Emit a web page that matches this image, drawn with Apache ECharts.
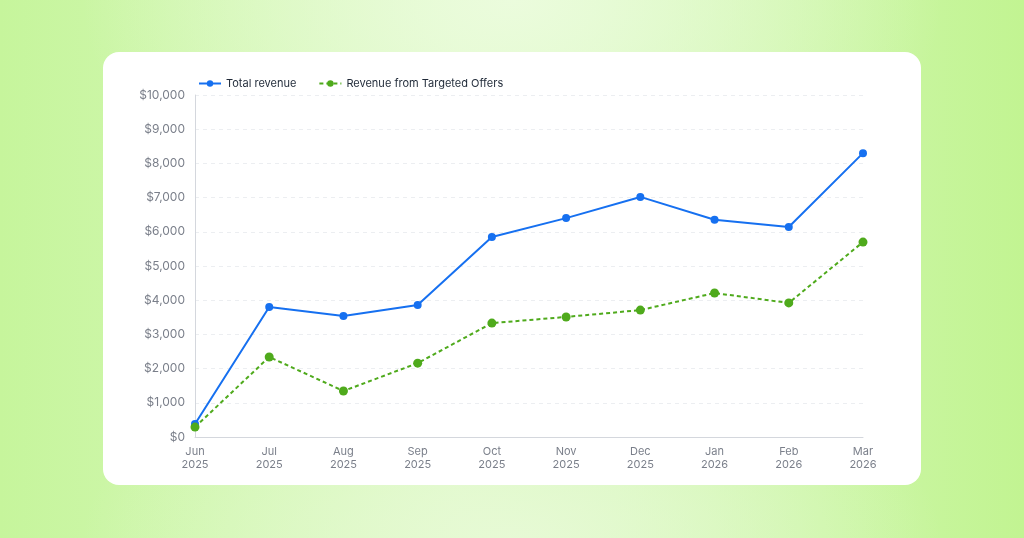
<!DOCTYPE html>
<html>
<head>
<meta charset="utf-8">
<script src="https://cdn.jsdelivr.net/npm/echarts@6/dist/echarts.min.js"></script>
<style>
  html, body { margin: 0; padding: 0; }
  body {
    width: 1024px; height: 538px; overflow: hidden; position: relative;
    background:
      radial-gradient(ellipse 60% 70% at 50% 0%, rgba(236,252,222,0.95), rgba(236,252,222,0) 70%),
      radial-gradient(ellipse 60% 50% at 50% 100%, rgba(232,250,215,0.9), rgba(232,250,215,0) 70%),
      linear-gradient(90deg, #c6f59c 0%, #dcf9c4 45%, #d6f8bb 60%, #c2f492 100%);
  }
  .card {
    position: absolute; left: 103px; top: 52px; width: 818px; height: 433px;
    background: #fff; border-radius: 16px;
  }
  #main { position: absolute; left: 0; top: 0; width: 1024px; height: 538px; }
</style>
</head>
<body>
<div class="card"></div>
<div id="main"></div>
<script>
var months = ["Jun\n2025", "Jul\n2025", "Aug\n2025", "Sep\n2025", "Oct\n2025",
              "Nov\n2025", "Dec\n2025", "Jan\n2026", "Feb\n2026", "Mar\n2026"];
var totalRevenue = [380, 3800, 3540, 3860, 5850, 6400, 7020, 6350, 6140, 8300];
var targetedRevenue = [290, 2340, 1345, 2160, 3330, 3510, 3710, 4210, 3920, 5700];

var myChart = echarts.init(document.getElementById("main"));
myChart.setOption({
  backgroundColor: "transparent",
  textStyle: { fontFamily: "Inter" },
  color: ["#1670f0", "#4faa1c"],
  legend: {
    left: 193,
    top: 73,
    itemGap: 22,
    itemWidth: 22,
    itemHeight: 8,
    textStyle: { color: "#1f2937", fontSize: 11, fontFamily: "Inter" },
    data: ["Total revenue", "Revenue from Targeted Offers"]
  },
  grid: { left: 195, right: 161, top: 95, bottom: 101 },
  xAxis: {
    type: "category",
    boundaryGap: false,
    data: months,
    axisLine: { lineStyle: { color: "#d4d7dd" } },
    axisTick: { show: false },
    axisLabel: { color: "#7a7f8a", fontSize: 11, lineHeight: 13, margin: 8, interval: 0 }
  },
  yAxis: {
    type: "value",
    min: 0,
    max: 10000,
    interval: 1000,
    axisLine: { show: true, lineStyle: { color: "#d4d7dd" } },
    axisLabel: {
      color: "#7a7f8a", fontSize: 12, margin: 10,
      formatter: function (v) { return "$" + v.toLocaleString("en-US"); }
    },
    splitLine: { lineStyle: { color: "#eceef1", type: [4, 4] } }
  },
  series: [
    {
      name: "Total revenue",
      type: "line",
      data: totalRevenue,
      symbol: "circle",
      symbolSize: 8,
      lineStyle: { width: 2 }
    },
    {
      name: "Revenue from Targeted Offers",
      type: "line",
      data: targetedRevenue,
      symbol: "circle",
      symbolSize: 9,
      lineStyle: { width: 2, type: [4, 3] }
    }
  ]
});
</script>
</body>
</html>
